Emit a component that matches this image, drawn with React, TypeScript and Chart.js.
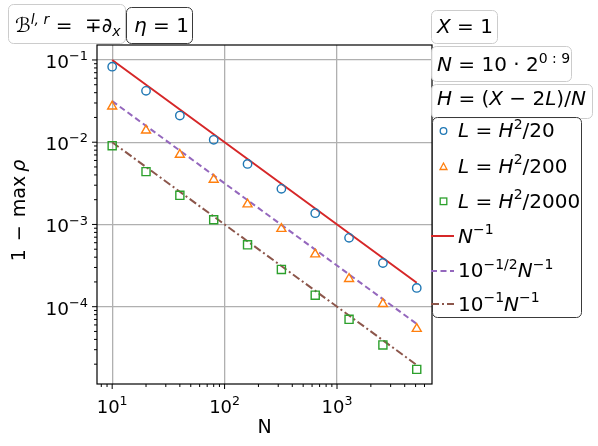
import { useEffect, useRef } from 'react';
import { Chart, registerables } from 'chart.js';

Chart.register(...registerables);

// ---------------- data ----------------
const N_VALUES = [10, 20, 40, 80, 160, 320, 640, 1280, 2560, 5120];
const SERIES_H2_20 = [0.0829, 0.0421, 0.0211, 0.0107, 0.00544, 0.00271, 0.00137, 0.000687, 0.00034, 0.000169];
const SERIES_H2_200 = [0.0272, 0.0139, 0.00705, 0.00351, 0.00176, 0.000886, 0.000434, 0.000218, 0.000108, 0.0000539];
const SERIES_H2_2000 = [0.00908, 0.00439, 0.00226, 0.00114, 0.000565, 0.000284, 0.000138, 0.0000702, 0.0000343, 0.0000173];
const REF_N_INV = [0.1, 0.05, 0.025, 0.0125, 0.00625, 0.003125, 0.0015625, 0.00078125, 0.000390625, 0.0001953125];
const REF_SQRT10_N_INV = [0.031623, 0.015811, 0.0079057, 0.0039528, 0.0019764, 0.00098821, 0.00049411, 0.00024705, 0.00012353, 0.000061763];
const REF_TENTH_N_INV = [0.01, 0.005, 0.0025, 0.00125, 0.000625, 0.0003125, 0.00015625, 0.000078125, 0.0000390625, 0.00001953125];

const X_TICKS = [10, 100, 1000];
const X_TICK_EXPONENTS = ['1', '2', '3'];
const Y_TICKS = [1e-1, 1e-2, 1e-3, 1e-4];
const Y_TICK_EXPONENTS = ['\u22121', '\u22122', '\u22123', '\u22124'];

const X_MIN = Math.pow(10, 0.865);
const X_MAX = Math.pow(10, 3.845);
const Y_MIN = Math.pow(10, -4.94);
const Y_MAX = Math.pow(10, -0.818);

const BLUE = '#1f77b4';
const ORANGE = '#ff7f0e';
const GREEN = '#2ca02c';
const RED = '#d62728';
const PURPLE = '#9467bd';
const BROWN = '#8c564b';

const FONT = '"DejaVu Sans", sans-serif';

type Seg = { t: string; it?: boolean; pos?: 'sup' | 'sub'; gap?: number };

function segFont(size: number, s: Seg) {
  const sz = s.pos ? size * 0.7 : size;
  return `${s.it ? 'italic ' : ''}${sz}px ${FONT}`;
}

function segWidth(ctx: CanvasRenderingContext2D, s: Seg, size: number) {
  if (s.gap !== undefined) return s.gap;
  ctx.font = segFont(size, s);
  return ctx.measureText(s.t).width;
}

function richWidth(ctx: CanvasRenderingContext2D, segs: Seg[], size: number) {
  let w = 0;
  for (const s of segs) w += segWidth(ctx, s, size);
  return w;
}

function drawRich(
  ctx: CanvasRenderingContext2D,
  segs: Seg[],
  x: number,
  y: number,
  size: number,
  align: 'left' | 'center' | 'right' = 'left',
  color = '#000'
) {
  const w = richWidth(ctx, segs, size);
  let cx = align === 'center' ? x - w / 2 : align === 'right' ? x - w : x;
  ctx.fillStyle = color;
  ctx.textAlign = 'left';
  ctx.textBaseline = 'alphabetic';
  for (const s of segs) {
    if (s.gap === undefined) {
      ctx.font = segFont(size, s);
      const dy = s.pos === 'sup' ? -size * 0.42 : s.pos === 'sub' ? size * 0.22 : 0;
      ctx.fillText(s.t, cx, y + dy);
    }
    cx += segWidth(ctx, s, size);
  }
}

function roundBox(ctx: CanvasRenderingContext2D, x: number, y: number, w: number, h: number, r: number, stroke: string) {
  ctx.beginPath();
  ctx.moveTo(x + r, y);
  ctx.lineTo(x + w - r, y);
  ctx.arcTo(x + w, y, x + w, y + r, r);
  ctx.lineTo(x + w, y + h - r);
  ctx.arcTo(x + w, y + h, x + w - r, y + h, r);
  ctx.lineTo(x + r, y + h);
  ctx.arcTo(x, y + h, x, y + h - r, r);
  ctx.lineTo(x, y + r);
  ctx.arcTo(x, y, x + r, y, r);
  ctx.closePath();
  ctx.fillStyle = 'rgba(255,255,255,0.9)';
  ctx.fill();
  ctx.strokeStyle = stroke;
  ctx.lineWidth = 1;
  ctx.stroke();
}

function minorTicks(min: number, max: number) {
  const out: number[] = [];
  for (let e = Math.floor(Math.log10(min)); e <= Math.ceil(Math.log10(max)); e++) {
    for (let m = 2; m <= 9; m++) {
      const v = m * Math.pow(10, e);
      if (v >= min && v <= max) out.push(v);
    }
  }
  return out;
}

const overlayPlugin = {
  id: 'overlay',
  afterDatasetsDraw(chart: any) {
    const ctx: CanvasRenderingContext2D = chart.ctx;
    const { left, right, top, bottom } = chart.chartArea;
    const xs = chart.scales.x;
    const ys = chart.scales.y;
    ctx.save();
    // frame
    ctx.strokeStyle = '#000';
    ctx.lineWidth = 1.2;
    ctx.strokeRect(left, top, right - left, bottom - top);
    // ticks
    ctx.lineWidth = 1;
    ctx.beginPath();
    for (const v of X_TICKS) {
      const px = xs.getPixelForValue(v);
      ctx.moveTo(px, bottom);
      ctx.lineTo(px, bottom + 5);
    }
    for (const v of minorTicks(X_MIN, X_MAX)) {
      const px = xs.getPixelForValue(v);
      ctx.moveTo(px, bottom);
      ctx.lineTo(px, bottom + 3);
    }
    for (const v of Y_TICKS) {
      const py = ys.getPixelForValue(v);
      ctx.moveTo(left, py);
      ctx.lineTo(left - 5, py);
    }
    for (const v of minorTicks(Y_MIN, Y_MAX)) {
      const py = ys.getPixelForValue(v);
      ctx.moveTo(left, py);
      ctx.lineTo(left - 3, py);
    }
    ctx.stroke();
    // tick labels
    X_TICKS.forEach((v, i) => {
      const px = xs.getPixelForValue(v);
      drawRich(ctx, [{ t: '10' }, { t: X_TICK_EXPONENTS[i], pos: 'sup' }], px, bottom + 29, 18, 'center');
    });
    Y_TICKS.forEach((v, i) => {
      const py = ys.getPixelForValue(v);
      drawRich(ctx, [{ t: '10' }, { t: Y_TICK_EXPONENTS[i], pos: 'sup' }], left - 9, py + 8, 18.5, 'right');
    });
    // axis labels
    drawRich(ctx, [{ t: 'N' }], (left + right) / 2, bottom + 49, 19, 'center');
    ctx.save();
    ctx.translate(25, (top + bottom) / 2 - 4);
    ctx.rotate(-Math.PI / 2);
    drawRich(
      ctx,
      [{ t: '1' }, { t: '', gap: 8 }, { t: '\u2212' }, { t: '', gap: 8 }, { t: 'max' }, { t: '', gap: 4 }, { t: '\u03c1', it: true }],
      0,
      0,
      19,
      'center'
    );
    ctx.restore();
    ctx.restore();
  },
  afterDraw(chart: any) {
    const ctx: CanvasRenderingContext2D = chart.ctx;
    ctx.save();
    const LIGHT = '#cccccc';
    const DARK = '#3a3a3a';
    const FS = 20;
    // top-left boxes
    roundBox(ctx, 8.5, 4.5, 117, 39, 5, LIGHT);
    drawRich(ctx, [
      { t: '\u212c' },
      { t: 'l, r', it: true, pos: 'sup' },
      { t: ' =  \u2213\u2202' },
      { t: 'x', it: true, pos: 'sub' },
    ], 15, 32, FS);
    roundBox(ctx, 126.5, 7.5, 66, 36, 5, DARK);
    drawRich(ctx, [{ t: '\u03b7', it: true }, { t: ' = 1' }], 134, 32, FS);
    // right boxes
    roundBox(ctx, 431.5, 10.5, 66, 33, 5, LIGHT);
    drawRich(ctx, [{ t: 'X', it: true }, { t: ' = 1' }], 437, 33, FS);
    roundBox(ctx, 431.5, 46.5, 140, 35, 5, LIGHT);
    drawRich(ctx, [{ t: 'N', it: true }, { t: ' = 10 \u00b7 2' }, { t: '0 : 9', pos: 'sup' }], 437, 71, FS);
    roundBox(ctx, 431.5, 84.5, 161, 34, 5, LIGHT);
    drawRich(ctx, [
      { t: 'H', it: true },
      { t: ' = (' },
      { t: 'X', it: true },
      { t: ' \u2212 2' },
      { t: 'L', it: true },
      { t: ')/' },
      { t: 'N', it: true },
    ], 437, 105, FS);
    // main legend
    roundBox(ctx, 432.5, 117.5, 149, 200, 5, DARK);
    const hx = 443.5;
    ctx.lineWidth = 1.3;
    // circle
    ctx.strokeStyle = BLUE;
    ctx.beginPath();
    ctx.arc(hx, 131, 3.3, 0, Math.PI * 2);
    ctx.stroke();
    // triangle
    ctx.strokeStyle = ORANGE;
    ctx.beginPath();
    ctx.moveTo(hx, 163);
    ctx.lineTo(hx - 3.5, 169.5);
    ctx.lineTo(hx + 3.5, 169.5);
    ctx.closePath();
    ctx.stroke();
    // square
    ctx.strokeStyle = GREEN;
    ctx.strokeRect(hx - 3.3, 198, 6.6, 6.6);
    // lines
    ctx.lineWidth = 2;
    ctx.strokeStyle = RED;
    ctx.setLineDash([]);
    ctx.beginPath();
    ctx.moveTo(431, 236);
    ctx.lineTo(454, 236);
    ctx.stroke();
    ctx.strokeStyle = PURPLE;
    ctx.setLineDash([6, 3.5]);
    ctx.beginPath();
    ctx.moveTo(431, 271);
    ctx.lineTo(454, 271);
    ctx.stroke();
    ctx.strokeStyle = BROWN;
    ctx.setLineDash([8, 3, 2, 3]);
    ctx.beginPath();
    ctx.moveTo(431, 304);
    ctx.lineTo(454, 304);
    ctx.stroke();
    ctx.setLineDash([]);
    const tx = 458;
    drawRich(ctx, [{ t: 'L', it: true }, { t: ' = ' }, { t: 'H', it: true }, { t: '2', pos: 'sup' }, { t: '/20' }], tx, 137, FS);
    drawRich(ctx, [{ t: 'L', it: true }, { t: ' = ' }, { t: 'H', it: true }, { t: '2', pos: 'sup' }, { t: '/200' }], tx, 172.5, FS);
    drawRich(ctx, [{ t: 'L', it: true }, { t: ' = ' }, { t: 'H', it: true }, { t: '2', pos: 'sup' }, { t: '/2000' }], tx, 207.5, FS);
    drawRich(ctx, [{ t: 'N', it: true }, { t: '\u22121', pos: 'sup' }], tx, 242.5, FS);
    drawRich(ctx, [{ t: '10' }, { t: '\u22121/2', pos: 'sup' }, { t: 'N', it: true }, { t: '\u22121', pos: 'sup' }], tx, 277, FS);
    drawRich(ctx, [{ t: '10' }, { t: '\u22121', pos: 'sup' }, { t: 'N', it: true }, { t: '\u22121', pos: 'sup' }], tx, 310.5, FS);
    ctx.restore();
  },
};

function pts(ys: number[]) {
  return N_VALUES.map((n, i) => ({ x: n, y: ys[i] }));
}

export default function App() {
  const ref = useRef<HTMLCanvasElement | null>(null);
  useEffect(() => {
    if (!ref.current) return;
    const markerCommon = {
      showLine: false,
      backgroundColor: 'rgba(0,0,0,0)',
      pointBackgroundColor: 'rgba(0,0,0,0)',
      pointBorderWidth: 1.4,
    };
    const lineCommon = {
      pointRadius: 0,
      borderWidth: 2,
      fill: false,
      tension: 0,
    };
    const chart = new Chart(ref.current, {
      type: 'line',
      data: {
        datasets: [
          { ...markerCommon, label: 'L=H^2/20', data: pts(SERIES_H2_20), borderColor: BLUE, pointBorderColor: BLUE, pointStyle: 'circle', pointRadius: 4.2 },
          { ...markerCommon, label: 'L=H^2/200', data: pts(SERIES_H2_200), borderColor: ORANGE, pointBorderColor: ORANGE, pointStyle: 'triangle', pointRadius: 5.2 },
          { ...markerCommon, label: 'L=H^2/2000', data: pts(SERIES_H2_2000), borderColor: GREEN, pointBorderColor: GREEN, pointStyle: 'rect', pointRadius: 5.7 },
          { ...lineCommon, label: 'N^-1', data: pts(REF_N_INV), borderColor: RED },
          { ...lineCommon, label: '10^-1/2 N^-1', data: pts(REF_SQRT10_N_INV), borderColor: PURPLE, borderDash: [6, 3.5] },
          { ...lineCommon, label: '10^-1 N^-1', data: pts(REF_TENTH_N_INV), borderColor: BROWN, borderDash: [8, 3, 2, 3] },
        ] as any,
      },
      options: {
        animation: false,
        responsive: true,
        maintainAspectRatio: false,
        layout: { padding: { left: 97, top: 45, right: 166, bottom: 62 } },
        plugins: { legend: { display: false }, tooltip: { enabled: false } },
        scales: {
          x: {
            type: 'logarithmic',
            min: X_MIN,
            max: X_MAX,
            bounds: 'data',
            ticks: { display: false },
            border: { display: false },
            grid: { drawTicks: false, color: '#b0b0b0', lineWidth: 1.3 },
            afterBuildTicks: (scale: any) => {
              scale.ticks = X_TICKS.map((v) => ({ value: v }));
            },
            afterFit: (scale: any) => {
              scale.height = 0;
            },
          },
          y: {
            type: 'logarithmic',
            min: Y_MIN,
            max: Y_MAX,
            bounds: 'data',
            ticks: { display: false },
            border: { display: false },
            grid: { drawTicks: false, color: '#b0b0b0', lineWidth: 1.3 },
            afterBuildTicks: (scale: any) => {
              scale.ticks = Y_TICKS.map((v) => ({ value: v }));
            },
            afterFit: (scale: any) => {
              scale.width = 0;
            },
          },
        } as any,
      },
      plugins: [overlayPlugin],
    });
    return () => chart.destroy();
  }, []);
  return (
    <div style={{ position: 'absolute', left: 0, top: 0, width: 598, height: 446, background: '#fff' }}>
      <canvas ref={ref} />
    </div>
  );
}
